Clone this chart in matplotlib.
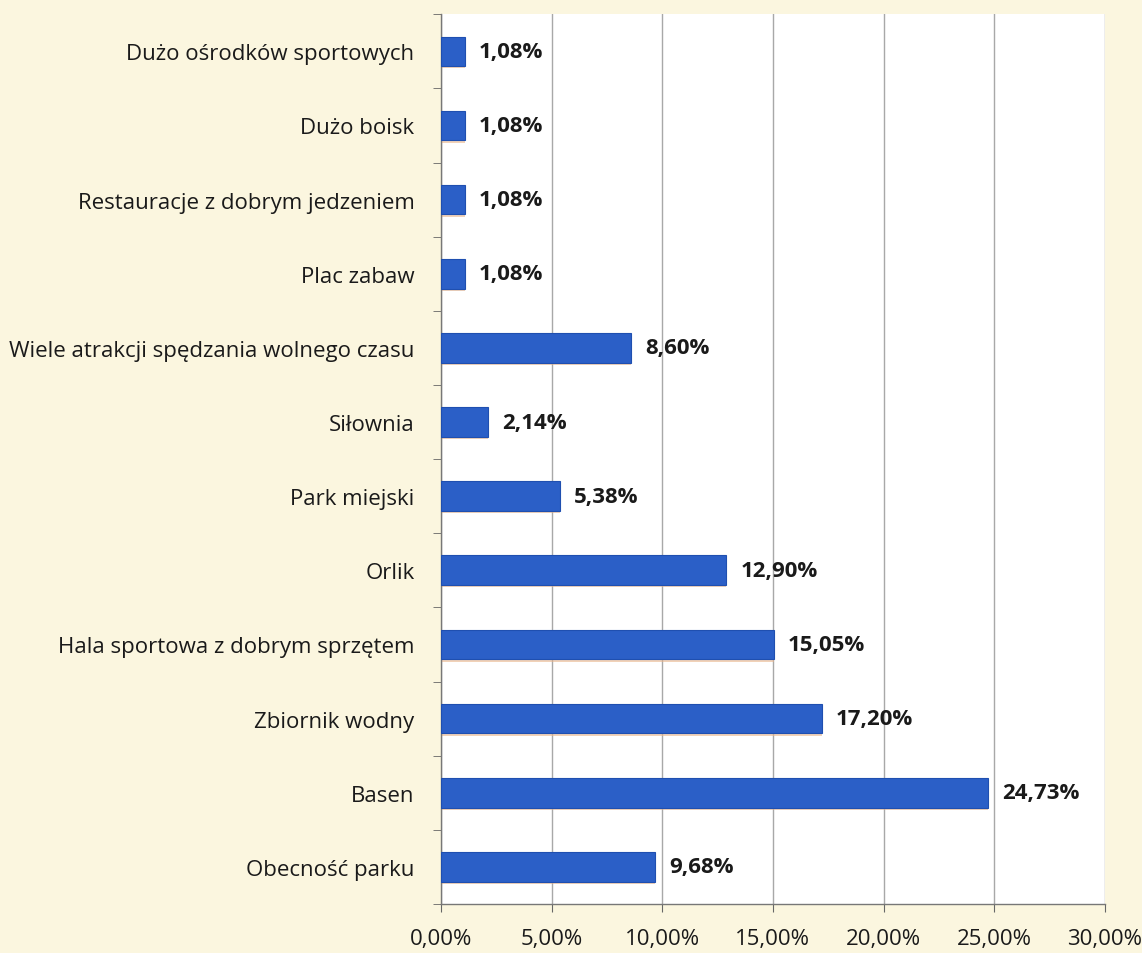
import numpy as np
import matplotlib.pyplot as plt
from matplotlib.ticker import FuncFormatter, FixedLocator

plt.rcParams['font.family'] = ['Open Sans', 'DejaVu Sans']

# data (bottom to top as drawn)
categories = [
    "Obecność parku",
    "Basen",
    "Zbiornik wodny",
    "Hala sportowa z dobrym sprzętem",
    "Orlik",
    "Park miejski",
    "Siłownia",
    "Wiele atrakcji spędzania wolnego czasu",
    "Plac zabaw",
    "Restauracje z dobrym jedzeniem",
    "Dużo boisk",
    "Dużo ośrodków sportowych",
]
values = [9.68, 24.73, 17.20, 15.05, 12.90, 5.38, 2.14, 8.60, 1.08, 1.08, 1.08, 1.08]
xticks = [0, 5, 10, 15, 20, 25, 30]

paper = "#fbf6df"
bar_col = "#2b5fc7"
grid_col = "#a8a8a8"

fig = plt.figure(figsize=(11.42, 9.54), dpi=100, facecolor=paper)
ax = fig.add_axes([0.386, 0.0514, 0.5816, 0.9326])
ax.set_facecolor("white")

y = np.arange(len(categories))
# faint orange shadow under each bar, like the scan
ax.barh(y - 0.03, values, height=0.4, color="#e8b48a", alpha=0.6, zorder=2)
ax.barh(y, values, height=0.4, color=bar_col, edgecolor="#1f4fb0", linewidth=0.8, zorder=3)

for yi, v in zip(y, values):
    ax.annotate(f"{v:.2f}%".replace(".", ","), (v, yi), xytext=(10, 0),
                textcoords="offset points", va="center", ha="left",
                fontsize=16, fontweight="bold", color="#1a1a1a", zorder=4)

ax.set_xlim(0, 30)
ax.set_ylim(-0.5, len(categories) - 0.5)
ax.set_xticks(xticks)
ax.xaxis.set_major_formatter(FuncFormatter(lambda v, p: f"{v:.2f}%".replace(".", ",")))
ax.set_yticks(y)
ax.set_yticklabels(categories)
ax.yaxis.set_minor_locator(FixedLocator(np.arange(-0.5, len(categories), 1)))
ax.tick_params(axis="y", which="major", length=0, pad=19, labelsize=16, labelcolor="#1a1a1a")
ax.tick_params(axis="y", which="minor", length=6, color="#666666", direction="out")
ax.tick_params(axis="x", length=6, color="#666666", pad=11, labelsize=16, labelcolor="#1a1a1a")

ax.grid(axis="x", color=grid_col, linewidth=1, zorder=0)
ax.set_axisbelow(True)
for s in ["top", "right"]:
    ax.spines[s].set_visible(False)
for s in ["left", "bottom"]:
    ax.spines[s].set_color("#777777")
    ax.spines[s].set_linewidth(1)

fig.savefig("out.png", dpi=100, facecolor=paper)
